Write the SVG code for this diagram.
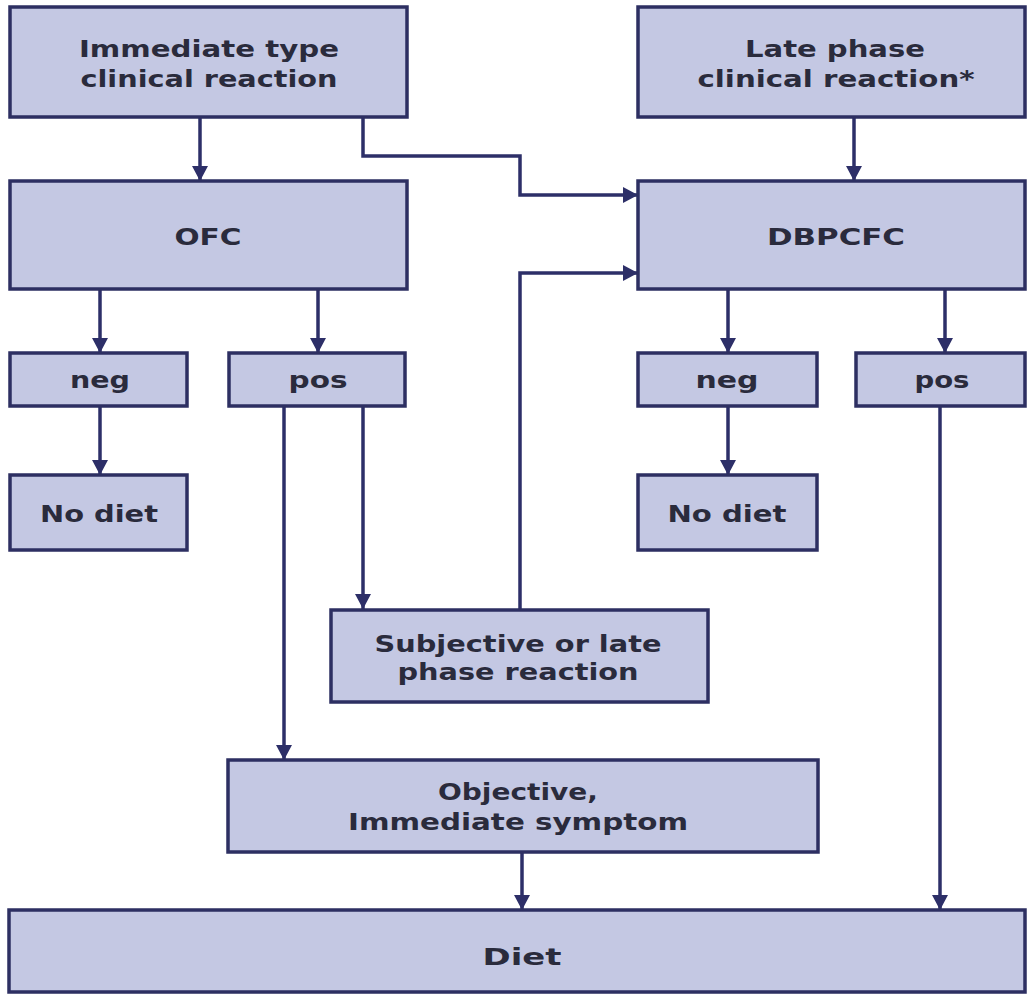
<svg xmlns="http://www.w3.org/2000/svg" width="1027" height="994" viewBox="0 0 1027 994">
<style>
.box{fill:#c4c8e3;stroke:#2d2f62;stroke-width:3.5}
.t{font-family:"DejaVu Sans",Verdana,sans-serif;font-size:23px;fill:#2a2b3c;text-anchor:middle;font-weight:bold}
.c{fill:none;stroke:#2d2f68;stroke-width:3.5}
</style>
<defs>
<marker id="ah" markerUnits="userSpaceOnUse" markerWidth="18" markerHeight="18" refX="15" refY="8" orient="auto">
<path d="M0,0 L15,8 L0,16 z" fill="#2d2f68"/>
</marker>
</defs>
<rect width="1027" height="994" fill="#ffffff"/>
<g id="connectors">
<path class="c" marker-end="url(#ah)" d="M200,117 V181"/>
<path class="c" marker-end="url(#ah)" d="M363,117 V156 H520 V195 H638"/>
<path class="c" marker-end="url(#ah)" d="M854,117 V181"/>
<path class="c" marker-end="url(#ah)" d="M100,289 V353"/>
<path class="c" marker-end="url(#ah)" d="M318,289 V353"/>
<path class="c" marker-end="url(#ah)" d="M728,289 V353"/>
<path class="c" marker-end="url(#ah)" d="M945,289 V353"/>
<path class="c" marker-end="url(#ah)" d="M100,406 V475"/>
<path class="c" marker-end="url(#ah)" d="M728,406 V475"/>
<path class="c" marker-end="url(#ah)" d="M284,406 V760"/>
<path class="c" marker-end="url(#ah)" d="M363,406 V609"/>
<path class="c" marker-end="url(#ah)" d="M520,610 V273 H638"/>
<path class="c" marker-end="url(#ah)" d="M522,852 V910"/>
<path class="c" marker-end="url(#ah)" d="M940,406 V910"/>
</g>
<g id="immediate">
<rect class="box" x="10" y="7" width="397" height="110"/>
<text class="t" x="209" y="57" textLength="260" lengthAdjust="spacingAndGlyphs">Immediate type</text>
<text class="t" x="209" y="87" textLength="257" lengthAdjust="spacingAndGlyphs">clinical reaction</text>
</g>
<g id="late">
<rect class="box" x="638" y="7" width="387" height="110"/>
<text class="t" x="835" y="57" textLength="180" lengthAdjust="spacingAndGlyphs">Late phase</text>
<text class="t" x="836" y="87" textLength="277" lengthAdjust="spacingAndGlyphs">clinical reaction*</text>
</g>
<g id="ofc">
<rect class="box" x="10" y="181" width="397" height="108"/>
<text class="t" x="208" y="245" textLength="67" lengthAdjust="spacingAndGlyphs">OFC</text>
</g>
<g id="dbpcfc">
<rect class="box" x="638" y="181" width="387" height="108"/>
<text class="t" x="836" y="245" textLength="138" lengthAdjust="spacingAndGlyphs">DBPCFC</text>
</g>
<g id="neg-left">
<rect class="box" x="10" y="353" width="177" height="53"/>
<text class="t" x="100" y="388" textLength="60" lengthAdjust="spacingAndGlyphs">neg</text>
</g>
<g id="pos-left">
<rect class="box" x="229" y="353" width="176" height="53"/>
<text class="t" x="318" y="388" textLength="59" lengthAdjust="spacingAndGlyphs">pos</text>
</g>
<g id="neg-right">
<rect class="box" x="638" y="353" width="179" height="53"/>
<text class="t" x="727" y="388" textLength="63" lengthAdjust="spacingAndGlyphs">neg</text>
</g>
<g id="pos-right">
<rect class="box" x="856" y="353" width="169" height="53"/>
<text class="t" x="942" y="388" textLength="55" lengthAdjust="spacingAndGlyphs">pos</text>
</g>
<g id="nodiet-left">
<rect class="box" x="10" y="475" width="177" height="75"/>
<text class="t" x="99" y="522" textLength="118" lengthAdjust="spacingAndGlyphs">No diet</text>
</g>
<g id="nodiet-right">
<rect class="box" x="638" y="475" width="179" height="75"/>
<text class="t" x="727" y="522" textLength="119" lengthAdjust="spacingAndGlyphs">No diet</text>
</g>
<g id="subjective">
<rect class="box" x="331" y="610" width="377" height="92"/>
<text class="t" x="518" y="652" textLength="287" lengthAdjust="spacingAndGlyphs">Subjective or late</text>
<text class="t" x="518" y="680" textLength="241" lengthAdjust="spacingAndGlyphs">phase reaction</text>
</g>
<g id="objective">
<rect class="box" x="228" y="760" width="590" height="92"/>
<text class="t" x="518" y="800" textLength="160" lengthAdjust="spacingAndGlyphs">Objective,</text>
<text class="t" x="518" y="830" textLength="340" lengthAdjust="spacingAndGlyphs">Immediate symptom</text>
</g>
<g id="diet">
<rect class="box" x="9" y="910" width="1016" height="82"/>
<text class="t" x="522" y="965" textLength="79" lengthAdjust="spacingAndGlyphs">Diet</text>
</g>
</svg>
